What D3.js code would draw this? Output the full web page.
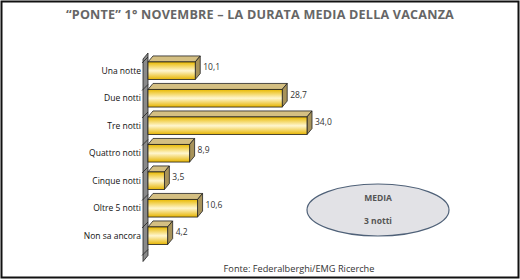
<!DOCTYPE html>
<html>
<head>
<meta charset="utf-8">
<script src="https://cdn.jsdelivr.net/npm/d3@7"></script>
<style>
  body { margin: 0; background: #fff; }
  svg { display: block; font-family: "Open Sans", "DejaVu Sans", sans-serif; }
</style>
</head>
<body>
<svg id="svg01" width="520" height="280"></svg>
<script>
const categories = ["Una notte", "Due notti", "Tre notti", "Quattro notti", "Cinque notti", "Oltre 5 notti", "Non sa ancora"]
const values = [10.1, 28.7, 34.0, 8.9, 3.5, 10.6, 4.2]
const title = "\u201CPONTE\u201D 1\u00B0 NOVEMBRE \u2013 LA DURATA MEDIA DELLA VACANZA"
const source = "Fonte: Federalberghi/EMG Ricerche"
const mediaLabel = ["MEDIA", "3 notti"]

const data = categories.map((c, i) => ({cat: c, value: values[i]}))

const width = 520, height = 280
const margin = {top: 57, right: 120, bottom: 30, left: 148}
const dx = 5, dy = -6   // depth of the 3d bars

const svg = d3.select("#svg01")

// gradients
const defs = svg.append("defs")
const gFront = defs.append("linearGradient").attr("id", "front")
    .attr("x1", 0).attr("y1", 0).attr("x2", 0).attr("y2", 1)
gFront.append("stop").attr("offset", "0%").attr("stop-color", "#e9b900")
gFront.append("stop").attr("offset", "50%").attr("stop-color", "#fff6cf")
gFront.append("stop").attr("offset", "100%").attr("stop-color", "#e6b400")

// frame
svg.append("rect")
    .attr("x", 1.5).attr("y", 1.5)
    .attr("width", width - 3).attr("height", height - 4)
    .attr("fill", "none").attr("stroke", "#111").attr("stroke-width", 2)

svg.append("text")
    .attr("x", 260).attr("y", 19)
    .attr("text-anchor", "middle")
    .attr("font-size", 12.6).attr("font-weight", "bold")
    .attr("letter-spacing", 0.2)
    .attr("fill", "#666")
    .text(title)

const x = d3.scaleLinear()
    .domain([0, 34])
    .range([margin.left, margin.left + 159])

const y = d3.scaleBand()
    .domain(categories)
    .range([margin.top, margin.top + 27.5 * categories.length])
    .paddingInner(0.36)
    .paddingOuter(0.18)

// axis wall
const yTop = y.range()[0] - 4, yBot = y.range()[1] + 6
const g_ = svg.append("g")
g_.append("path")
    .attr("d", `M${x(0) - dx},${yTop - dy} L${x(0)},${yTop} L${x(0)},${yBot} L${x(0) - dx},${yBot - dy} Z`)
    .attr("fill", "#8a8a8a").attr("stroke", "#222").attr("stroke-width", 0.8)

// slanted ticks between categories
const step = y.step()
d3.range(categories.length + 1).forEach(i => {
    const yy = y.range()[0] + i * step
    g_.append("line")
        .attr("x1", x(0) - dx - 1).attr("y1", yy - dy)
        .attr("x2", x(0)).attr("y2", yy)
        .attr("stroke", "#222").attr("stroke-width", 0.8)
})

const bars = g_.selectAll(".bar")
    .data(data)
    .join("g")
    .attr("class", "bar")

// top face
bars.append("path")
    .attr("d", d => {
        const x0 = x(0), x1 = x(d.value), y0 = y(d.cat)
        return `M${x0},${y0} L${x0 + dx},${y0 + dy} L${x1 + dx},${y0 + dy} L${x1},${y0} Z`
    })
    .attr("fill", "#d4bf82").attr("stroke", "#222").attr("stroke-width", 0.8)

// side face
bars.append("path")
    .attr("d", d => {
        const x1 = x(d.value), y0 = y(d.cat), y1 = y0 + y.bandwidth()
        return `M${x1},${y0} L${x1 + dx},${y0 + dy} L${x1 + dx},${y1 + dy} L${x1},${y1} Z`
    })
    .attr("fill", "#a8935a").attr("stroke", "#222").attr("stroke-width", 0.8)

// front face
bars.append("rect")
    .attr("x", x(0))
    .attr("y", d => y(d.cat))
    .attr("width", d => x(d.value) - x(0))
    .attr("height", y.bandwidth())
    .attr("fill", "url(#front)").attr("stroke", "#222").attr("stroke-width", 0.8)

// value labels
bars.append("text")
    .attr("x", d => x(d.value) + dx + 3)
    .attr("y", d => y(d.cat) + 8.5)
    .attr("font-size", 8.5).attr("fill", "#333")
    .text(d => d3.format(".1f")(d.value).replace(".", ","))

// category labels
g_.selectAll(".cat")
    .data(data)
    .join("text")
    .attr("class", "cat")
    .attr("x", x(0) - 7)
    .attr("y", d => y(d.cat) + y.bandwidth() / 2 + 3)
    .attr("text-anchor", "end")
    .attr("font-size", 8.5).attr("fill", "#111")
    .text(d => d.cat)

// media ellipse
svg.append("ellipse")
    .attr("cx", 378).attr("cy", 210)
    .attr("rx", 71).attr("ry", 26)
    .attr("fill", "#e2e2e6").attr("stroke", "#4f6178").attr("stroke-width", 1.2)

svg.selectAll(".media")
    .data(mediaLabel)
    .join("text")
    .attr("class", "media")
    .attr("x", 378)
    .attr("y", (d, i) => 201 + i * 23)
    .attr("text-anchor", "middle")
    .attr("font-size", 8.5).attr("font-weight", "bold")
    .attr("fill", "#555")
    .text(d => d)

svg.append("text")
    .attr("x", 299).attr("y", 272)
    .attr("text-anchor", "middle")
    .attr("font-size", 9.2).attr("fill", "#333")
    .text(source)
</script>
</body>
</html>
